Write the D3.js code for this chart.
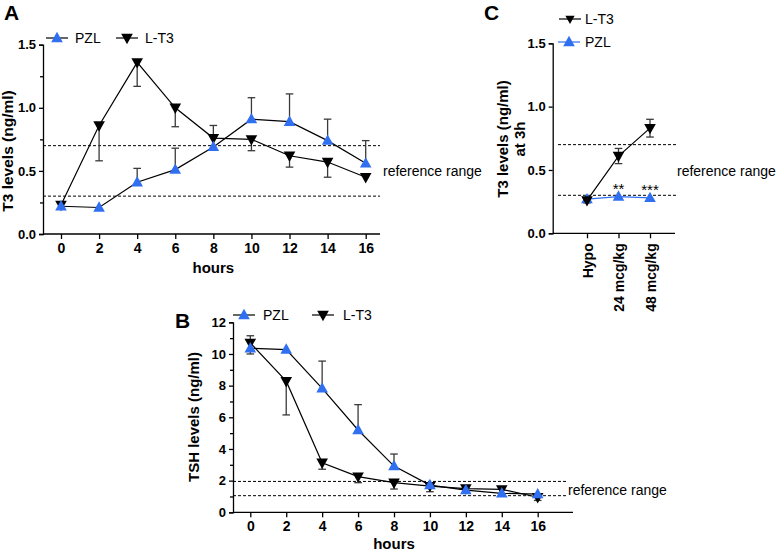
<!DOCTYPE html>
<html><head><meta charset="utf-8">
<script src="https://cdn.jsdelivr.net/npm/d3@7"></script>
<style>
html,body{margin:0;padding:0;background:#fff;}
svg{display:block;font-family:"Liberation Sans",Arial,Helvetica,sans-serif;}
</style></head>
<body>
<svg id="chart" width="777" height="551"></svg>
<script>
// ---------- DATA ----------
const hours = [0, 2, 4, 6, 8, 10, 12, 14, 16];
const hourTicks = [0, 2, 4, 6, 8, 10, 12, 14, 16];

// Panel A: T3 levels (ng/ml)
const pzlA        = [0.22, 0.21, 0.41, 0.51, 0.69, 0.91, 0.89, 0.74, 0.56];
const pzlAErrUp   = [0, 0, 0.11, 0.17, 0.17, 0.17, 0.22, 0.17, 0.18];
const pzlAErrDown = [0, 0, 0, 0, 0, 0, 0, 0, 0];
const lt3A        = [0.23, 0.86, 1.36, 1.00, 0.76, 0.75, 0.62, 0.57, 0.45];
const lt3AErrUp   = [0, 0, 0, 0, 0, 0.02, 0, 0, 0];
const lt3AErrDown = [0.03, 0.28, 0.19, 0.15, 0, 0.09, 0.09, 0.12, 0];
const refA = [0.3, 0.7];
const yTicksA = [0, 0.25, 0.5, 0.75, 1.0, 1.25, 1.5];

// Panel B: TSH levels (ng/ml)
const pzlB        = [10.36, 10.28, 7.83, 5.2, 2.92, 1.72, 1.4, 1.2, 1.15];
const pzlBErrUp   = [0, 0, 1.72, 1.6, 0.76, 0.1, 0, 0, 0];
const pzlBErrDown = [0.36, 0, 0, 0, 0, 0, 0, 0, 0];
const lt3B        = [10.7, 8.28, 3.13, 2.25, 1.87, 1.65, 1.5, 1.45, 0.95];
const lt3BErrUp   = [0.45, 0, 0, 0, 0, 0, 0, 0, 0];
const lt3BErrDown = [0, 2.13, 0.41, 0.38, 0.4, 0.35, 0, 0, 0.2];
const refB = [1.05, 1.95];
const yTicksB = [0, 1, 2, 3, 4, 5, 6, 7, 8, 9, 10, 11, 12];

// Panel C: T3 levels at 3h
const groupsC   = ["Hypo", "24 mcg/kg", "48 mcg/kg"];
const lt3C      = [0.26, 0.61, 0.83];
const lt3CErr   = [0.02, 0.06, 0.07];
const pzlC      = [0.27, 0.29, 0.28];
const starsC    = ["", "**", "***"];
const refC = [0.3, 0.7];
const yTicksC = [0, 0.5, 1.0, 1.5];

// ---------- STYLE ----------
const BLUE = "#2f6ff0";
const BLACK = "#000";
const ERR = "#3a3a3a";

const svg = d3.select("#chart");

function triUp(s) { return `M0,${-s*0.62} L${s*0.58},${s*0.42} L${-s*0.58},${s*0.42} Z`; }
function triDown(s) { return `M0,${s*0.62} L${s*0.58},${-s*0.42} L${-s*0.58},${-s*0.42} Z`; }

function drawYAxis(g, y, x0, ticks, labelFn, majorFn) {
  const ax = d3.axisLeft(y).tickValues(ticks).tickSize(4).tickPadding(3)
    .tickFormat(labelFn);
  const a = g.append("g").attr("transform", `translate(${x0},0)`).call(ax);
  a.select(".domain").attr("stroke", BLACK).attr("stroke-width", 1.3);
  a.selectAll(".tick line").attr("stroke", BLACK).attr("stroke-width", 1.3)
    .attr("x2", d => majorFn(d) ? -4 : -3);
  a.selectAll(".tick text").attr("font-size", 13).attr("font-weight", "bold")
    .attr("fill", BLACK);
  return a;
}

function drawXAxisLinear(g, x, y0, xStart, xEnd, ticks) {
  g.append("line").attr("x1", xStart).attr("x2", xEnd).attr("y1", y0).attr("y2", y0)
    .attr("stroke", BLACK).attr("stroke-width", 1.3);
  const ax = d3.axisBottom(x).tickValues(ticks).tickSize(5).tickPadding(4).tickFormat(d3.format("d"));
  const a = g.append("g").attr("transform", `translate(0,${y0})`).call(ax);
  a.select(".domain").remove();
  a.selectAll(".tick line").attr("stroke", BLACK).attr("stroke-width", 1.3);
  a.selectAll(".tick text").attr("font-size", 14).attr("font-weight", "bold").attr("fill", BLACK);
}

function refLines(g, y, vals, xStart, xEnd) {
  vals.forEach(v => {
    g.append("line").attr("x1", xStart).attr("x2", xEnd)
      .attr("y1", y(v)).attr("y2", y(v))
      .attr("stroke", BLACK).attr("stroke-width", 1).attr("stroke-dasharray", "3,2");
  });
}

function errorBars(g, xs, vals, up, down, x, y) {
  vals.forEach((v, i) => {
    const cx = x(xs[i]);
    [[up[i], 1], [down[i], -1]].forEach(([e, s]) => {
      if (!e) return;
      const ye = y(v + s * e);
      g.append("line").attr("x1", cx).attr("x2", cx).attr("y1", y(v)).attr("y2", ye)
        .attr("stroke", ERR).attr("stroke-width", 1.3);
      g.append("line").attr("x1", cx - 3.8).attr("x2", cx + 3.8).attr("y1", ye).attr("y2", ye)
        .attr("stroke", ERR).attr("stroke-width", 1.3);
    });
  });
}

function series(g, xs, vals, x, y, lineColor, markerPath, markerColor) {
  const line = d3.line().x((d, i) => x(xs[i])).y(d => y(d));
  g.append("path").attr("d", line(vals)).attr("fill", "none")
    .attr("stroke", lineColor).attr("stroke-width", 1.2);
  return () => {
    g.selectAll(null).data(vals).enter().append("path")
      .attr("d", markerPath)
      .attr("transform", (d, i) => `translate(${x(xs[i])},${y(d)})`)
      .attr("fill", markerColor);
  };
}

function legendItem(g, cx, cy, path, color, lineColor, label, tx) {
  g.append("line").attr("x1", cx - 11).attr("x2", cx + 11).attr("y1", cy).attr("y2", cy)
    .attr("stroke", lineColor).attr("stroke-width", 1.2);
  g.append("path").attr("d", path).attr("transform", `translate(${cx},${cy})`).attr("fill", color);
  g.append("text").attr("x", tx).attr("y", cy + 5).attr("font-size", 14).attr("fill", BLACK).text(label);
}

function panelLabel(g, x, y, t) {
  g.append("text").attr("x", x).attr("y", y).attr("font-size", 21).attr("font-weight", "bold").text(t);
}

function yTitle(g, cx, cy, lines, fs) {
  const t = g.append("text").attr("transform", `translate(${cx},${cy}) rotate(-90)`)
    .attr("text-anchor", "middle").attr("font-size", fs).attr("font-weight", "bold");
  lines.forEach((l, i) => {
    t.append("tspan").attr("x", 0).attr("dy", i === 0 ? 0 : "1.1em").text(l);
  });
}

// ---------- PANEL A ----------
(function () {
  const g = svg.append("g");
  const x = d3.scaleLinear().domain([0, 16]).range([61, 365.7]);
  const y = d3.scaleLinear().domain([0, 1.5]).range([234, 44.7]);
  refLines(g, y, refA, 43, 380);
  const mk1 = series(g, hours, lt3A, x, y, BLACK, triDown(10), BLACK);
  const mk2 = series(g, hours, pzlA, x, y, BLACK, triUp(10), BLUE);
  errorBars(g, hours, pzlA, pzlAErrUp, pzlAErrDown, x, y);
  errorBars(g, hours, lt3A, lt3AErrUp, lt3AErrDown, x, y);
  mk1(); mk2();
  drawXAxisLinear(g, x, 234, 43, 380, hourTicks);
  drawYAxis(g, y, 43, yTicksA, d => (Math.abs(d * 2 - Math.round(d * 2)) < 1e-6 ? d3.format(".1f")(d) : ""),
    d => Math.abs(d * 2 - Math.round(d * 2)) < 1e-6);
  g.append("text").attr("x", x(8)).attr("y", 273).attr("text-anchor", "middle")
    .attr("font-size", 15).attr("font-weight", "bold").text("hours");
  yTitle(g, 13, 151, ["T3 levels (ng/ml)"], 15.5);
  g.append("text").attr("x", 383).attr("y", 176).attr("font-size", 14).text("reference range");
  panelLabel(g, 4, 20, "A");
  legendItem(g, 57, 38, triUp(10), BLUE, BLACK, "PZL", 75);
  legendItem(g, 127, 38, triDown(10), BLACK, BLACK, "L-T3", 145);
})();

// ---------- PANEL B ----------
(function () {
  const g = svg.append("g");
  const x = d3.scaleLinear().domain([0, 16]).range([250.3, 537.7]);
  const y = d3.scaleLinear().domain([0, 12]).range([512.3, 322.3]);
  refLines(g, y, refB, 233, 568);
  const mk1 = series(g, hours, lt3B, x, y, BLACK, triDown(10), BLACK);
  const mk2 = series(g, hours, pzlB, x, y, BLACK, triUp(10), BLUE);
  errorBars(g, hours, pzlB, pzlBErrUp, pzlBErrDown, x, y);
  errorBars(g, hours, lt3B, lt3BErrUp, lt3BErrDown, x, y);
  mk1(); mk2();
  drawXAxisLinear(g, x, 512.3, 233, 573, hourTicks);
  drawYAxis(g, y, 233, yTicksB, d => (d % 2 === 0 ? String(d) : ""), d => d % 2 === 0);
  g.append("text").attr("x", x(8)).attr("y", 549).attr("text-anchor", "middle")
    .attr("font-size", 15).attr("font-weight", "bold").text("hours");
  yTitle(g, 199, 417, ["TSH levels (ng/ml)"], 15);
  g.append("text").attr("x", 568).attr("y", 495).attr("font-size", 14).text("reference range");
  panelLabel(g, 175, 328, "B");
  legendItem(g, 244, 315, triUp(10), BLUE, BLACK, "PZL", 263);
  legendItem(g, 323, 315, triDown(10), BLACK, BLACK, "L-T3", 343);
})();

// ---------- PANEL C ----------
(function () {
  const g = svg.append("g");
  const x = d3.scalePoint().domain(groupsC).range([587, 650]);
  const y = d3.scaleLinear().domain([0, 1.5]).range([233.3, 43.3]);
  refLines(g, y, refC, 558, 676);
  const line = d3.line().x((d, i) => x(groupsC[i])).y(d => y(d));
  g.append("path").attr("d", line(lt3C)).attr("fill", "none").attr("stroke", BLACK).attr("stroke-width", 1.2);
  g.append("path").attr("d", line(pzlC)).attr("fill", "none").attr("stroke", BLUE).attr("stroke-width", 1.2);
  errorBars(g, groupsC, lt3C, lt3CErr, lt3CErr, x, y);
  g.selectAll(null).data(pzlC).enter().append("path").attr("d", triUp(10))
    .attr("transform", (d, i) => `translate(${x(groupsC[i])},${y(d)})`).attr("fill", BLUE);
  g.selectAll(null).data(lt3C).enter().append("path").attr("d", triDown(10))
    .attr("transform", (d, i) => `translate(${x(groupsC[i])},${y(d)})`).attr("fill", BLACK);
  g.selectAll(null).data(starsC).enter().append("text")
    .attr("x", (d, i) => x(groupsC[i])).attr("y", (d, i) => y(pzlC[i]) - 3)
    .attr("text-anchor", "middle").attr("font-size", 15).text(d => d);
  // axes
  g.append("line").attr("x1", 552.7).attr("x2", 675).attr("y1", 233.3).attr("y2", 233.3)
    .attr("stroke", BLACK).attr("stroke-width", 1.3);
  const ax = d3.axisBottom(x).tickSize(5).tickPadding(0);
  const a = g.append("g").attr("transform", "translate(0,233.3)").call(ax);
  a.select(".domain").remove();
  a.selectAll(".tick line").attr("stroke", BLACK).attr("stroke-width", 1.3);
  a.selectAll(".tick text").attr("font-size", 14).attr("font-weight", "bold").attr("fill", BLACK)
    .attr("text-anchor", "end").attr("dy", null)
    .attr("transform", "translate(5,10) rotate(-90)").attr("y", 0).attr("x", 0);
  drawYAxis(g, y, 552.7, yTicksC, d3.format(".1f"), () => true);
  yTitle(g, 508, 139, ["T3 levels (ng/ml)", "at 3h"], 15);
  g.append("text").attr("x", 677).attr("y", 176).attr("font-size", 14).text("reference range");
  panelLabel(g, 484, 20, "C");
  legendItem(g, 570, 19, triDown(8), BLACK, BLACK, "L-T3", 585);
  legendItem(g, 569, 42, triUp(10), BLUE, BLUE, "PZL", 585);
})();
</script>
</body></html>
